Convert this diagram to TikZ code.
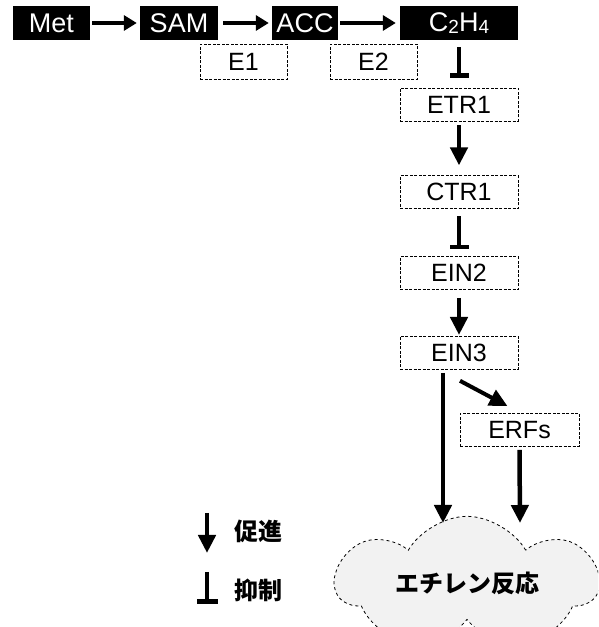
\documentclass[tikz,border=0pt]{standalone}
\usepackage{fontspec}
\setmainfont{Liberation Sans}
\newfontfamily\jpfont{Noto Sans CJK JP}
\usetikzlibrary{arrows.meta, positioning, shapes.symbols}

\newcommand{\lowsub}[1]{{\fontsize{19}{19}\selectfont\raisebox{-1.5pt}{#1}}}

\begin{document}
\begin{tikzpicture}[x=1pt, y=1pt,
    blackbox/.style={fill=black, text=white, inner sep=0pt, minimum height=34pt,
      font=\fontsize{27}{29}\selectfont},
    dashbox/.style={draw, line width=0.8pt, dash pattern=on 3pt off 1.5pt, inner sep=0pt,
      minimum width=118pt, minimum height=33pt, font=\fontsize{25}{27}\selectfont},
    prom/.style={-{Triangle[length=18pt, width=17pt]}, line width=4.5pt},
    promsmall/.style={-{Triangle[length=13pt, width=15pt]}, line width=4pt},
    inhib/.style={-{Bar[width=19pt, line width=4.5pt]}, line width=4.5pt},
    jptext/.style={font=\jpfont\bfseries\fontsize{24}{26}\selectfont}]
  \useasboundingbox (0,0) rectangle (598,627);
  \clip (0,0) rectangle (598,627);
  % Biosyntese
  \node[blackbox, minimum width=77pt] (met) at (51.5,604) {Met};
  \node[blackbox, minimum width=78pt] (sam) at (179,604) {SAM};
  \node[blackbox, minimum width=66pt] (acc) at (305,604) {ACC};
  \node[blackbox, minimum width=118pt] (eth) at (459,604) {C\lowsub{2}H\lowsub{4}};
  \node[dashbox, minimum width=87pt, minimum height=35pt] (e1) at (243.5,565) {E1};
  \node[dashbox, minimum width=87pt, minimum height=35pt] (e2) at (373.5,565) {E2};
  \draw[promsmall, shorten <=2pt, shorten >=3pt] (met) -- (sam);
  \draw[promsmall, shorten <=5pt, shorten >=3pt] (sam) -- (acc);
  \draw[promsmall, shorten <=2pt, shorten >=4pt] (acc) -- (eth);
  % Signalkjede
  \node[dashbox] (etr1) at (459,522.5) {ETR1};
  \node[dashbox, below=54pt of etr1] (ctr1) {CTR1};
  \node[dashbox, below=47pt of ctr1] (ein2) {EIN2};
  \node[dashbox, below=46pt of ein2] (ein3) {EIN3};
  \node[dashbox, minimum width=119pt] (erfs) at (519.5,197) {ERFs};
  \draw[inhib, shorten <=7pt, shorten >=10pt] (eth) -- (etr1);
  \draw[prom, shorten <=4pt, shorten >=10pt] (etr1) -- (ctr1);
  \draw[inhib, shorten <=7pt, shorten >=7pt] (ctr1) -- (ein2);
  \draw[prom, shorten <=8pt, shorten >=1pt] (ein2) -- (ein3);
  % Respons
  \node[cloud, draw, dashed, line width=0.8pt, fill=black!5, cloud puffs=7, cloud puff arc=120,
    aspect=2.4, minimum width=262pt, minimum height=112pt, jptext] (resp) at (467,44) {エチレン反応};
  \coordinate (in1) at (443,104);
  \coordinate (in2) at (520,104);
  \draw[prom] ([xshift=-16pt, yshift=-3pt]ein3.south) -- (in1);
  \draw[prom] ([yshift=-3pt]erfs.south) -- (in2);
  \draw[prom, line width=4pt] ([xshift=1pt, yshift=-11pt]ein3.south) -- ([xshift=-12pt, yshift=7pt]erfs.north);
  % Forklaring
  \coordinate (lp1) at (207,114);
  \coordinate (lp2) at (207,74);
  \coordinate (li1) at (207,55);
  \coordinate (li2) at (207,23);
  \draw[prom] (lp1) -- (lp2);
  \draw[inhib, -{Bar[width=21pt, line width=4.5pt]}] (li1) -- (li2);
  \node[jptext, anchor=west] (lpt) at (231,96) {促進};
  \node[jptext, anchor=west] (lit) at (231,37) {抑制};
\end{tikzpicture}
\end{document}
